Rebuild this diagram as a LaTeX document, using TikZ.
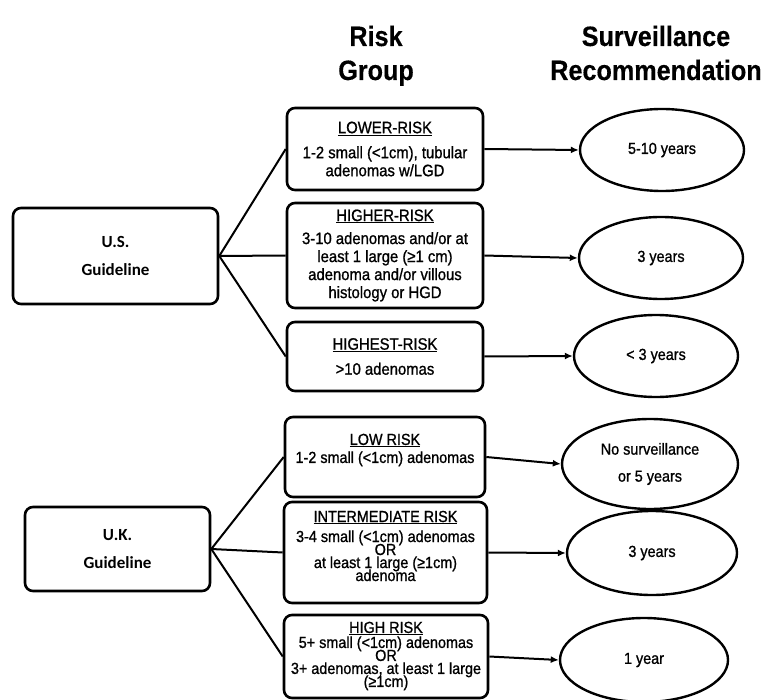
\documentclass[tikz,border=0pt]{standalone}
\usepackage{fontspec}
\setmainfont{Liberation Sans}[FakeStretch=0.9, UprightFeatures={FakeBold=1.0}, BoldFeatures={FakeBold=0.3}]
\newfontfamily\guidefont{Carlito}
\usetikzlibrary{arrows.meta,shapes.geometric}
\newcommand\tightlines{\lineskiplimit=-20pt\relax}
\begin{document}
\begin{tikzpicture}[x=1pt,y=-1pt,
  box/.style={draw, line width=2.6pt, rounded corners=8pt, align=center, inner sep=0pt},
  riskus/.style={box, font={\fontsize{16.5}{18}\selectfont\tightlines}},
  ukframe/.style={draw, line width=2.6pt, rounded corners=8pt, inner sep=0pt},
  uktext/.style={align=center, inner sep=0pt, font={\fontsize{16}{13}\selectfont\tightlines}},
  guide/.style={box, font={\guidefont\bfseries\fontsize{17}{28}\selectfont}},
  rec/.style={draw, ellipse, line width=2.4pt, align=center, inner sep=0pt,
    font={\fontsize{16}{27}\selectfont}},
  head/.style={anchor=base, font={\bfseries\fontsize{28}{34}\selectfont}},
  link/.style={line width=2pt},
  arr/.style={line width=2pt, -{Latex[length=8pt,width=7pt]}}]
\useasboundingbox (0,0) rectangle (765,700);

% headers
\node[head] (h1) at (376,46) {Risk};
\node[head] (h2) at (376,80) {Group};
\node[head] (h3) at (656,46) {Surveillance};
\node[head] (h4) at (656,80) {Recommendation};

% guideline boxes
\node[guide, minimum width=205, minimum height=96] (us) at (115.5,256) {U.S.\\Guideline};
\node[guide, minimum width=185, minimum height=84] (uk) at (117.5,549) {U.K.\\Guideline};

% US risk groups
\node[riskus, minimum width=196, minimum height=82] (lower) at (385,149)
  {\underline{LOWER-RISK}\\[7pt]1-2 small (<1cm), tubular\\adenomas w/LGD};
\node[riskus, minimum width=196, minimum height=105] (higher) at (385,255.5)
  {\underline{HIGHER-RISK}\\[5pt]3-10 adenomas and/or at\\least 1 large (≥1 cm)\\adenoma and/or villous\\histology or HGD};
\node[riskus, minimum width=196, minimum height=69] (highest) at (385,356.5)
  {\underline{HIGHEST-RISK}\\[7pt]>10 adenomas};

% UK risk groups
\node[ukframe, minimum width=200, minimum height=80] (low) at (385,457) {};
\node[uktext] (lowt) at (385,450)
  {\underline{LOW RISK}\\[5pt]1-2 small (<1cm) adenomas};
\node[ukframe, minimum width=203, minimum height=101] (inter) at (385.5,552.5) {};
\node[uktext] (intert) at (385.5,546)
  {\underline{INTERMEDIATE RISK}\\[7pt]3-4 small (<1cm) adenomas\\OR\\at least 1 large (≥1cm)\\adenoma};
\node[ukframe, minimum width=204, minimum height=83] (high) at (386,656.5) {};
\node[uktext] (hight) at (386,656)
  {\underline{HIGH RISK}\\[2pt]5+ small (<1cm) adenomas\\OR\\3+ adenomas, at least 1 large\\(≥1cm)};

% recommendations
\node[rec, minimum width=164, minimum height=82] (r1) at (662,150) {5-10 years};
\node[rec, minimum width=164, minimum height=82] (r2) at (661,258) {3 years};
\node[rec, minimum width=164, minimum height=82] (r3) at (656,356) {< 3 years};
\node[rec, minimum width=176, minimum height=90] (r4) at (650,464) {No surveillance\\or 5 years};
\node[rec, minimum width=170, minimum height=84] (r5) at (652,553) {3 years};
\node[rec, minimum width=168, minimum height=84] (r6) at (644,660) {1 year};

% connectors
\draw[link] (us.east) -- (lower.west);
\draw[link] (us.east) -- (higher.west);
\draw[link] (us.east) -- (highest.west);
\draw[link] (uk.east) -- (low.west);
\draw[link] (uk.east) -- (inter.west);
\draw[link] (uk.east) -- (high.west);

\draw[arr] (lower.east) -- (r1.west);
\draw[arr] (higher.east) -- (r2.west);
\draw[arr] (highest.east) -- (r3.west);
\draw[arr] (low.east) -- (r4.west);
\draw[arr] (inter.east) -- (r5.west);
\draw[arr] (high.east) -- (r6.west);
\end{tikzpicture}
\end{document}
